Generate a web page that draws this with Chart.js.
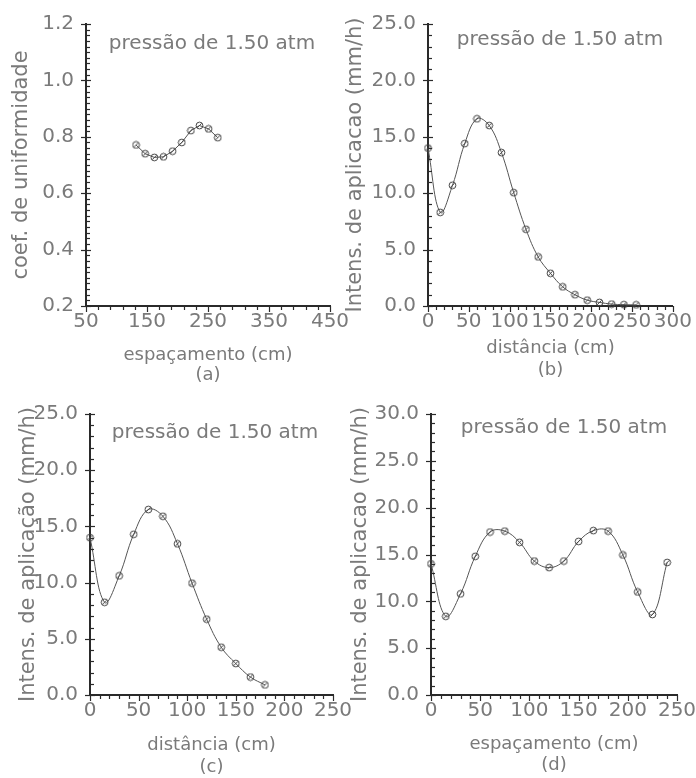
<!DOCTYPE html>
<html>
<head>
<meta charset="utf-8">
<script src="https://cdn.jsdelivr.net/npm/chart.js@4.4.0/dist/chart.umd.min.js"></script>
<style>
  html, body { margin: 0; padding: 0; background: #fff; }
  #page { position: relative; width: 696px; height: 778px; overflow: hidden; background: #fff; }
  canvas { position: absolute; }
</style>
</head>
<body>
<div id="page">
  <canvas id="chartA" width="360" height="390" style="left:0;top:0"></canvas>
  <canvas id="chartB" width="356" height="390" style="left:340px;top:0"></canvas>
  <canvas id="chartC" width="360" height="388" style="left:0;top:390px"></canvas>
  <canvas id="chartD" width="368" height="388" style="left:340px;top:390px"></canvas>
</div>
<script>
// (a) coeficiente de uniformidade x espaçamento
const spacingA = [132, 147, 162, 177, 192, 207, 222, 236, 251, 266];
const uniformityA = [0.771, 0.740, 0.727, 0.729, 0.749, 0.780, 0.822, 0.840, 0.828, 0.797];
const xTicksA = [50, 150, 250, 350, 450];
const yTicksA = [0.2, 0.4, 0.6, 0.8, 1.0, 1.2];

// (b) intensidade x distância
const distanceB = [0, 15, 30, 45, 60, 75, 90, 105, 120, 135, 150, 165, 180, 195, 210, 225, 240, 255];
const intensityB = [14.0, 8.3, 10.7, 14.4, 16.6, 16.0, 13.6, 10.05, 6.8, 4.35, 2.9, 1.7, 1.0, 0.52, 0.32, 0.17, 0.12, 0.10];
const xTicksB = [0, 50, 100, 150, 200, 250, 300];
const yTicksB = [0, 5, 10, 15, 20, 25];

// (c) intensidade x distância
const distanceC = [0, 15, 30, 45, 60, 75, 90, 105, 120, 135, 150, 165, 180];
const intensityC = [14.0, 8.25, 10.6, 14.3, 16.5, 15.9, 13.45, 9.95, 6.75, 4.25, 2.8, 1.6, 0.9];
const xTicksC = [0, 50, 100, 150, 200, 250];
const yTicksC = [0, 5, 10, 15, 20, 25];

// (d) intensidade x espaçamento
const spacingD = [0, 15, 30, 45, 60, 75, 90, 105, 120, 135, 150, 165, 180, 195, 210, 225, 240];
const intensityD = [14.0, 8.4, 10.8, 14.8, 17.4, 17.5, 16.3, 14.3, 13.6, 14.3, 16.4, 17.55, 17.5, 14.95, 11.0, 8.6, 14.15];
const xTicksD = [0, 50, 100, 150, 200, 250];
const yTicksD = [0, 5, 10, 15, 20, 25, 30];

const FONT = '"DejaVu Sans", sans-serif';
const TEXT = '#7a7a7a';
const INK = '#2a2a2a';

// little circle with a slash, like the plotter markers
function marker() {
  const c = document.createElement('canvas');
  c.width = 9; c.height = 9;
  const g = c.getContext('2d');
  g.strokeStyle = '#444';
  g.lineWidth = 1;
  g.beginPath(); g.arc(4.5, 4.5, 3.4, 0, Math.PI * 2); g.stroke();
  g.beginPath(); g.moveTo(2.3, 6.7); g.lineTo(6.7, 2.3); g.stroke();
  return c;
}
const dot = marker();

// minor/major tick marks + the "pressão" note inside the plot
const axisTicks = {
  id: 'axisTicks',
  afterDraw(chart, args, o) {
    const { ctx, chartArea: a, scales: { x, y } } = chart;
    ctx.save();
    ctx.strokeStyle = INK;
    ctx.lineWidth = 1.2;
    let n = Math.round((x.max - x.min) / o.xMinor);
    let every = Math.round(o.xMajor / o.xMinor);
    for (let i = 0; i <= n; i++) {
      const px = Math.round(x.getPixelForValue(x.min + i * o.xMinor)) + 0.5;
      const len = i % every === 0 ? 6 : 4;
      ctx.beginPath(); ctx.moveTo(px, a.bottom); ctx.lineTo(px, a.bottom + len); ctx.stroke();
    }
    n = Math.round((y.max - y.min) / o.yMinor);
    every = Math.round(o.yMajor / o.yMinor);
    for (let i = 0; i <= n; i++) {
      const py = Math.round(y.getPixelForValue(y.min + i * o.yMinor)) + 0.5;
      const major = i % every === 0;
      ctx.beginPath();
      ctx.moveTo(a.left - (major ? 5 : 0), py);
      ctx.lineTo(a.left + (major ? 5 : 4), py);
      ctx.stroke();
    }
    ctx.fillStyle = TEXT;
    ctx.font = '20px ' + FONT;
    ctx.textAlign = 'center';
    ctx.textBaseline = 'middle';
    ctx.fillText(o.note, o.noteX, o.noteY);
    ctx.restore();
  }
};

function makeChart(id, p) {
  return new Chart(document.getElementById(id), {
    type: 'line',
    data: {
      datasets: [{
        data: p.xs.map((v, i) => ({ x: v, y: p.ys[i] })),
        borderColor: '#555',
        borderWidth: 1,
        tension: p.tension,
        pointStyle: dot,
        pointRadius: 4,
        clip: false
      }]
    },
    options: {
      responsive: false,
      animation: false,
      layout: { padding: { top: p.top, right: p.right, left: 0, bottom: 0 } },
      plugins: {
        legend: { display: false },
        tooltip: { enabled: false },
        axisTicks: p.marks
      },
      scales: {
        x: {
          type: 'linear',
          min: p.xTicks[0],
          max: p.xTicks[p.xTicks.length - 1],
          afterBuildTicks: s => { s.ticks = p.xTicks.map(v => ({ value: v })); },
          afterFit: s => { s.height = p.xHeight; },
          grid: { display: false, drawTicks: false },
          border: { display: true, color: INK, width: 2 },
          ticks: {
            autoSkip: false, maxRotation: 0, padding: 4, color: TEXT,
            font: { family: FONT, size: 20, lineHeight: 1.2 },
            callback: v => String(v)
          },
          title: {
            display: true, text: p.xTitle, color: TEXT,
            font: { family: FONT, size: 18, lineHeight: p.xLh + 'px' },
            padding: { top: 0, bottom: p.xPad }
          }
        },
        y: {
          type: 'linear',
          min: p.yTicks[0],
          max: p.yTicks[p.yTicks.length - 1],
          afterBuildTicks: s => { s.ticks = p.yTicks.map(v => ({ value: v })); },
          afterFit: s => { s.width = p.yWidth; },
          grid: { display: false, drawTicks: false },
          border: { display: true, color: INK, width: 2 },
          ticks: {
            autoSkip: false, padding: 12, color: TEXT,
            font: { family: FONT, size: 20, lineHeight: 1.2 },
            callback: v => v.toFixed(1)
          },
          title: {
            display: true, text: p.yTitle, color: TEXT,
            font: { family: FONT, size: 21, lineHeight: '24px' },
            padding: { top: p.yPad, bottom: 0 }
          }
        }
      }
    },
    plugins: [axisTicks]
  });
}

makeChart('chartA', {
  xs: spacingA, ys: uniformityA, tension: 0,
  xTicks: xTicksA, yTicks: yTicksA,
  top: 20, right: 30, yWidth: 86, xHeight: 84,
  xTitle: ['espaçamento (cm)', '(a)'], xLh: 20, xPad: 5,
  yTitle: 'coef. de uniformidade', yPad: 10,
  marks: { xMinor: 20, xMajor: 100, yMinor: 0.02, yMajor: 0.2,
           note: 'pressão de 1.50 atm', noteX: 212, noteY: 44 }
});

makeChart('chartB', {
  xs: distanceB, ys: intensityB, tension: 0.4,
  xTicks: xTicksB, yTicks: yTicksB,
  top: 19, right: 23, yWidth: 88, xHeight: 84,
  xTitle: ['distância (cm)', '(b)'], xLh: 22, xPad: 9,
  yTitle: 'Intens. de aplicacao (mm/h)', yPad: 4,
  marks: { xMinor: 10, xMajor: 50, yMinor: 1, yMajor: 5,
           note: 'pressão de 1.50 atm', noteX: 220, noteY: 40 }
});

makeChart('chartC', {
  xs: distanceC, ys: intensityC, tension: 0.4,
  xTicks: xTicksC, yTicks: yTicksC,
  top: 16, right: 27, yWidth: 90, xHeight: 83,
  xTitle: ['distância (cm)', '(c)'], xLh: 22, xPad: 0,
  yTitle: 'Intens. de aplicação (mm/h)', yPad: 17,
  marks: { xMinor: 10, xMajor: 50, yMinor: 1, yMajor: 5,
           note: 'pressão de 1.50 atm', noteX: 215, noteY: 43 }
});

makeChart('chartD', {
  xs: spacingD, ys: intensityD, tension: 0.4,
  xTicks: xTicksD, yTicks: yTicksD,
  top: 16, right: 31, yWidth: 91, xHeight: 83,
  xTitle: ['espaçamento (cm)', '(d)'], xLh: 21, xPad: 2,
  yTitle: 'Intens. de aplicacao (mm/h)', yPad: 9,
  marks: { xMinor: 10, xMajor: 50, yMinor: 1, yMajor: 5,
           note: 'pressão de 1.50 atm', noteX: 224, noteY: 38 }
});
</script>
</body>
</html>
